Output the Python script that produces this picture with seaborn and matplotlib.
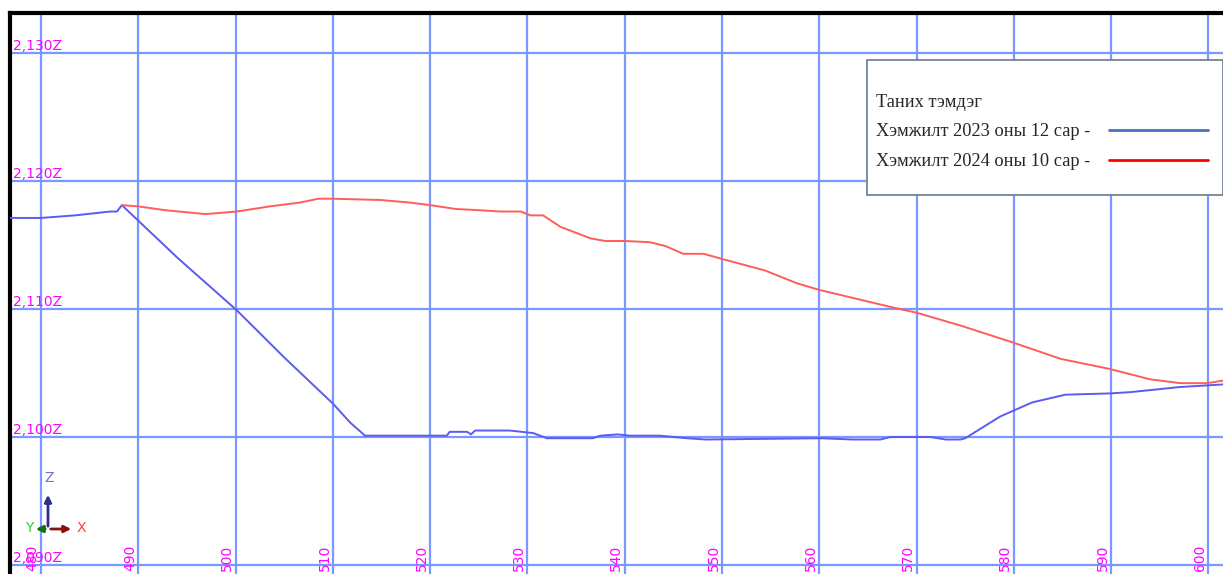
import pandas as pd
import matplotlib.pyplot as plt
import seaborn as sns
from matplotlib.lines import Line2D
from matplotlib.patches import Rectangle

# -------------------------------
# Data
# -------------------------------
x_2023 = [476.8, 480.0, 483.5, 487.1, 487.8, 488.3, 494.0, 500.1, 505.0, 510.0,
          511.8, 513.3, 521.7, 522.0, 523.8, 524.2, 524.6, 528.2, 530.6, 531.3,
          532.0, 536.7, 537.5, 539.3, 540.5, 543.6, 546.4, 548.3, 560.1, 563.5,
          566.3, 567.3, 571.4, 573.0, 574.5, 575.0, 578.6, 581.9, 585.3, 589.9,
          592.0, 597.1, 601.5]
z_2023 = [2.1171, 2.1171, 2.1173, 2.1176, 2.1176, 2.1181, 2.1140, 2.1099, 2.1062, 2.1026,
          2.1011, 2.1001, 2.1001, 2.1004, 2.1004, 2.1002, 2.1005, 2.1005, 2.1003, 2.1001,
          2.0999, 2.0999, 2.1001, 2.1002, 2.1001, 2.1001, 2.0999, 2.0998, 2.0999, 2.0998,
          2.0998, 2.1000, 2.1000, 2.0998, 2.0998, 2.0999, 2.1016, 2.1027, 2.1033, 2.1034,
          2.1035, 2.1039, 2.1041]

x_2024 = [488.3, 490.0, 492.8, 496.9, 500.1, 503.5, 506.6, 508.5, 510.0, 514.9,
          517.9, 520.0, 522.6, 525.1, 527.2, 529.3, 530.3, 531.6, 533.4, 536.5,
          538.0, 540.1, 542.6, 544.2, 546.0, 548.1, 550.0, 554.4, 557.7, 559.9,
          567.6, 570.0, 574.5, 579.8, 584.8, 589.9, 594.0, 597.1, 599.9, 601.5]
z_2024 = [2.1181, 2.1180, 2.1177, 2.1174, 2.1176, 2.1180, 2.1183, 2.1186, 2.1186, 2.1185,
          2.1183, 2.1181, 2.1178, 2.1177, 2.1176, 2.1176, 2.1173, 2.1173, 2.1164, 2.1155,
          2.1153, 2.1153, 2.1152, 2.1149, 2.1143, 2.1143, 2.1139, 2.1130, 2.1120, 2.1115,
          2.1101, 2.1097, 2.1087, 2.1074, 2.1061, 2.1053, 2.1045, 2.1042, 2.1042, 2.1044]

x_ticks = [480, 490, 500, 510, 520, 530, 540, 550, 560, 570, 580, 590, 600]
z_ticks = [2.090, 2.100, 2.110, 2.120, 2.130]
z_tick_labels = ["2,090Z", "2,100Z", "2,110Z", "2,120Z", "2,130Z"]

legend_title = "Таних тэмдэг"
label_2023 = "Хэмжилт 2023 оны 12 сар -"
label_2024 = "Хэмжилт 2024 оны 10 сар -"

df = pd.concat([
    pd.DataFrame({"x": x_2023, "z": z_2023, "series": label_2023}),
    pd.DataFrame({"x": x_2024, "z": z_2024, "series": label_2024}),
])

# -------------------------------
# Figure
# -------------------------------
sns.set_style("white")

W, H = 1223, 574
fig = plt.figure(figsize=(W / 100, H / 100), dpi=100)
ax = fig.add_axes([10 / W, 0, 1 - 10 / W, (H - 13) / H])


def px(x, y):
    # figure pixel (top-left origin) -> figure fraction
    return (x / W, 1 - y / H)


xmin, xmax = 476.8, 601.5
zmin, zmax = 2.0893, 2.1331

sns.lineplot(
    data=df, x="x", y="z", hue="series",
    palette={label_2023: "#5a5cf0", label_2024: "#ff5c5c"},
    sort=False, estimator=None, linewidth=1.4, legend=False, ax=ax,
    zorder=3,
)

ax.set_xlim(xmin, xmax)
ax.set_ylim(zmin, zmax)
ax.set_xticks(x_ticks)
ax.set_yticks(z_ticks)
ax.grid(True, color="#7a98ff", linewidth=1.6)
ax.tick_params(length=0, labelbottom=False, labelleft=False)
ax.set_xlabel("")
ax.set_ylabel("")

for side in ["right", "bottom"]:
    ax.spines[side].set_visible(False)
for side in ["left", "top"]:
    ax.spines[side].set_visible(True)
    ax.spines[side].set_color("black")
    ax.spines[side].set_linewidth(3.0)

# CAD style labels inside the frame
for z, lab in zip(z_ticks, z_tick_labels):
    ax.text(xmin + 0.3, z, lab, color="#ff00ff", fontsize=10,
            ha="left", va="bottom", zorder=4)

for x in x_ticks:
    ax.text(x - 0.15, zmin + 0.0002, str(x), color="#ff00ff", fontsize=10,
            rotation=90, ha="right", va="bottom", zorder=4)

# -------------------------------
# Axis gizmo
# -------------------------------
o = px(48, 529)
arrow = dict(arrowstyle="-|>", lw=2, mutation_scale=10)
ax.annotate("", xy=px(48, 492), xytext=o, xycoords="figure fraction",
            textcoords="figure fraction", arrowprops=dict(arrow, color="#2e2e8a"))
ax.annotate("", xy=px(74, 529), xytext=o, xycoords="figure fraction",
            textcoords="figure fraction", arrowprops=dict(arrow, color="#8b1010"))
ax.annotate("", xy=px(33, 529), xytext=o, xycoords="figure fraction",
            textcoords="figure fraction", arrowprops=dict(arrow, color="#157015"))
fig.text(*px(49, 478), "Z", color="#7070d8", fontsize=10, ha="center", va="center")
fig.text(*px(81, 528), "X", color="#ff4040", fontsize=10, ha="center", va="center")
fig.text(*px(29, 528), "Y", color="#30d030", fontsize=10, ha="center", va="center")

# -------------------------------
# Legend
# -------------------------------
box = Rectangle(px(867, 195), (W - 867) / W, (195 - 60) / H,
                transform=fig.transFigure, facecolor="white",
                edgecolor="#6a7a8a", linewidth=1.2, zorder=5)
fig.patches.append(box)

handles = [
    Line2D([], [], color="#4472c4", linewidth=2),
    Line2D([], [], color="#ff0000", linewidth=2),
]
leg = fig.legend(
    handles, [label_2023, label_2024],
    title=legend_title, loc="upper left", bbox_to_anchor=px(876, 94),
    frameon=False, markerfirst=False, handlelength=5.4, handletextpad=1.0,
    labelspacing=0.68, borderpad=0, borderaxespad=0, alignment="left",
    prop={"family": "Liberation Serif", "size": 13.2},
    title_fontproperties={"family": "Liberation Serif", "size": 13.2},
)
leg.set_zorder(6)

fig.savefig("out.png", dpi=100)
